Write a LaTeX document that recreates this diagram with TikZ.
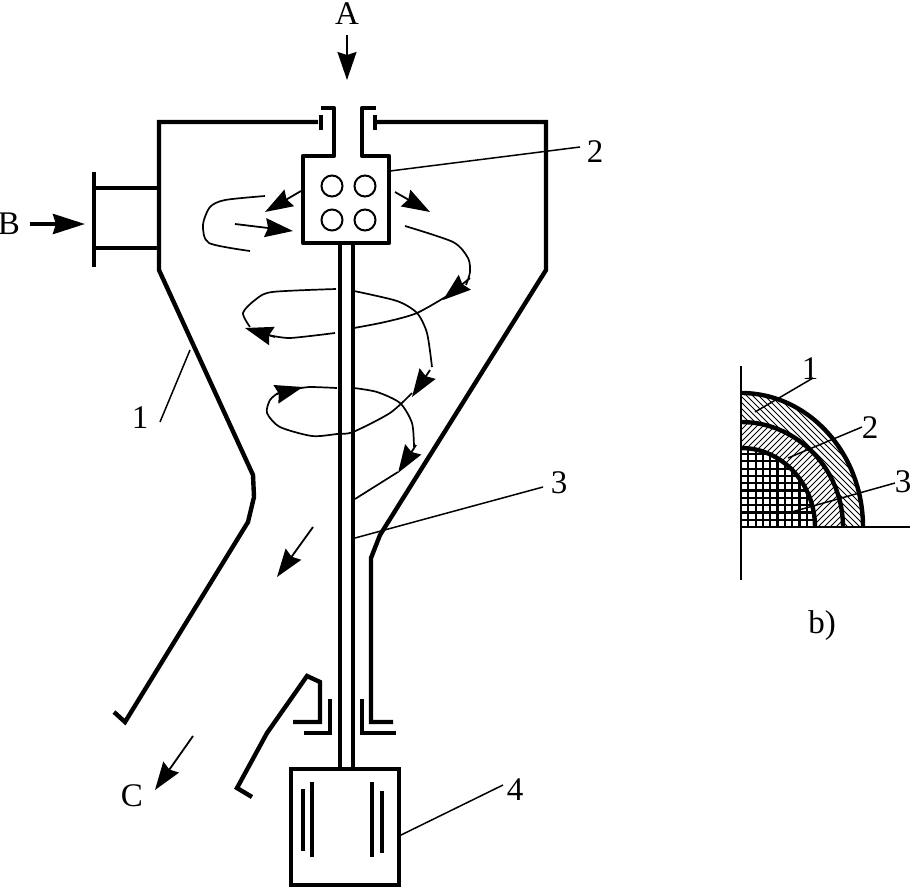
\documentclass[tikz,border=0pt]{standalone}
\usepackage{fontspec}
\setmainfont{Liberation Serif}
\usetikzlibrary{arrows.meta}
\tikzset{
  wall/.style={line width=4.4pt,line join=miter},
  mid/.style={line width=4pt},
  flow/.style={line width=1.7pt,line join=round},
  lead/.style={line width=1.5pt},
  tip/.style={line width=1.8pt,-{Stealth[length=28pt,width=19pt,inset=3pt]}},
  bigtip/.style={line width=4pt,-{Stealth[length=32pt,width=20pt,inset=3pt]}},
  lab/.style={font=\fontsize{33}{33}\selectfont,inner sep=0pt},
  hatch/.style={line width=1pt},
  grid line/.style={line width=2.2pt},
}
\begin{document}
\begin{tikzpicture}[x=1pt,y=-1pt]
\useasboundingbox (0,0) rectangle (913,887);
% housing
\draw[wall] (318,122) -- (159,122) -- (159,270) -- (253,475) -- (254,497) -- (248,522) -- (125,722) -- (114,712);
\draw[wall] (375,122) -- (546,122) -- (546,270) -- (380,535) -- (371,558) -- (371,722) -- (393,722);
\draw[wall] (321,115) -- (321,130);
\draw[wall] (375,115) -- (375,130);
% feed neck and head
\draw[wall,line join=round] (321,108) -- (334,108) -- (334,156) -- (303,156) -- (303,243) -- (389,243) -- (389,156) -- (362,156) -- (362,108) -- (376,108);
\foreach \cx/\cy in {332/186,365/186,332/220,365/220}
  \draw[line width=2pt] (\cx,\cy) circle[radius=10.5];
% shaft
\draw[mid] (339.5,243) -- (339.5,769);
\draw[mid] (352.5,243) -- (352.5,769);
% side inlet
\draw[wall] (94,172) -- (94,267);
\draw[wall] (94,188) -- (159,188);
\draw[wall] (94,248) -- (159,248);
% lower seals and chute
\draw[wall] (252,797) -- (237,788) -- (267,733) -- (307,676) -- (320,682) -- (320,722) -- (293,722);
\draw[wall] (330,699) -- (330,733) -- (304,733);
\draw[wall] (362,699) -- (362,733) -- (396,733);
% motor
\draw[wall] (291,769) rectangle (399,885);
\draw[wall] (303,789) -- (303,851);
\draw[wall] (312,782) -- (312,857);
\draw[wall] (372,782) -- (372,857);
\draw[wall] (382,791) -- (382,853);
% flow curves
\draw[flow] plot[smooth,tension=0.45] coordinates {(265,196) (225,200) (210,207) (203,225) (209,243) (250,251)};
\draw[flow] plot[smooth,tension=0.45] coordinates {(405,226) (453,242) (468,258) (470,272) (466,285)};
\draw[flow] plot[smooth,tension=0.45] coordinates {(452,293) (417,313) (385,322) (354,328)};
\draw[flow] plot[smooth,tension=0.4] coordinates {(335,333) (290,338) (268,335)};
\draw[flow] plot[smooth,tension=0.45] coordinates {(250,327) (243,313) (255,300) (272,292) (336,289)};
\draw[flow] plot[smooth,tension=0.45] coordinates {(354,291) (397,301) (417,313) (427,333) (432,367)};
\draw[flow] plot[smooth,tension=0.45] coordinates {(412,393) (390,413) (353,432) (337,434) (312,436) (280,427) (267,413) (270,400) (278,393)};
\draw[flow] plot[smooth,tension=0.4] coordinates {(295,389) (310,387) (337,388)};
\draw[flow] plot[smooth,tension=0.45] coordinates {(354,388) (377,392) (400,403) (412,423) (414,447)};
\draw[flow] plot[smooth,tension=0.3] coordinates {(398,472) (355,499)};
% flow arrows
\draw[tip] (301,191) -- (265,212);
\draw[tip] (235,224) -- (293,231);
\draw[tip] (395,192) -- (430,212);
\draw[tip] (470,278) -- (443,300);
\draw[tip] (275,337) -- (245,328);
\draw[tip] (430,370) -- (412,397);
\draw[tip] (277,394) -- (303,387);
\draw[tip] (416,445) -- (398,473);
\draw[tip] (313,527) -- (277,577);
\draw[tip] (193,736) -- (155,790);
\draw[tip] (347,35) -- (347,80);
\draw[bigtip] (30,224) -- (85,224);
% leaders
\draw[lead] (160,422) -- (190,350);
\draw[lead] (390,171) -- (580,147);
\draw[lead] (355,538) -- (543,487);
\draw[lead] (399,836) -- (503,785);
% labels
\node[lab] (la) at (347,14) {A};
\node[lab] (lb) at (9,224) {B};
\node[lab] (lc) at (132,796) {C};
\node[lab] (l1) at (140,418) {1};
\node[lab] (l2) at (595,152) {2};
\node[lab] (l3) at (559,483) {3};
\node[lab] (l4) at (515,790) {4};
% figure b: hatching
\begin{scope}
  \clip (741,527) -- (863,527) arc[start angle=0,end angle=90,x radius=122,y radius=-134] -- cycle;
  \foreach \k in {0,6,...,300}
    \draw[hatch] (741+\k-60,390) -- (741+\k+90,540);
\end{scope}
\begin{scope}
  \clip (741,527) -- (843,527) arc[start angle=0,end angle=90,x radius=102,y radius=-105] -- cycle;
  \fill[white] (730,410) rectangle (850,530);
  \foreach \k in {0,6,...,300}
    \draw[hatch] (741+\k-110,540) -- (741+\k+40,390);
\end{scope}
\begin{scope}
  \clip (741,527) -- (815,527) arc[start angle=0,end angle=90,x radius=74,y radius=-79] -- cycle;
  \fill[white] (730,440) rectangle (820,530);
  \foreach \k in {0,...,12}
    \draw[grid line] (741+\k*7.3,440) -- (741+\k*7.3,530);
  \foreach \k in {0,...,12}
    \draw[grid line] (735,527-\k*7.3) -- (820,527-\k*7.3);
\end{scope}
\draw[line width=2.4pt] (741,366) -- (741,580);
\draw[line width=2.4pt] (741,527) -- (910,527);
\draw[line width=4.4pt] (863,527) arc[start angle=0,end angle=90,x radius=122,y radius=-134];
\draw[line width=4.4pt] (843,527) arc[start angle=0,end angle=90,x radius=102,y radius=-105];
\draw[line width=4.4pt] (815,527) arc[start angle=0,end angle=90,x radius=74,y radius=-79];
\draw[lead] (755,412) -- (813,378);
\draw[lead] (788,458) -- (862,427);
\draw[lead] (788,513) -- (895,483);
\node[lab] (b1) at (810,369) {1};
\node[lab] (b2) at (870,428) {2};
\node[lab] (b3) at (903,482) {3};
\node[lab] (bb) at (822,626) {b)};
\end{tikzpicture}
\end{document}
